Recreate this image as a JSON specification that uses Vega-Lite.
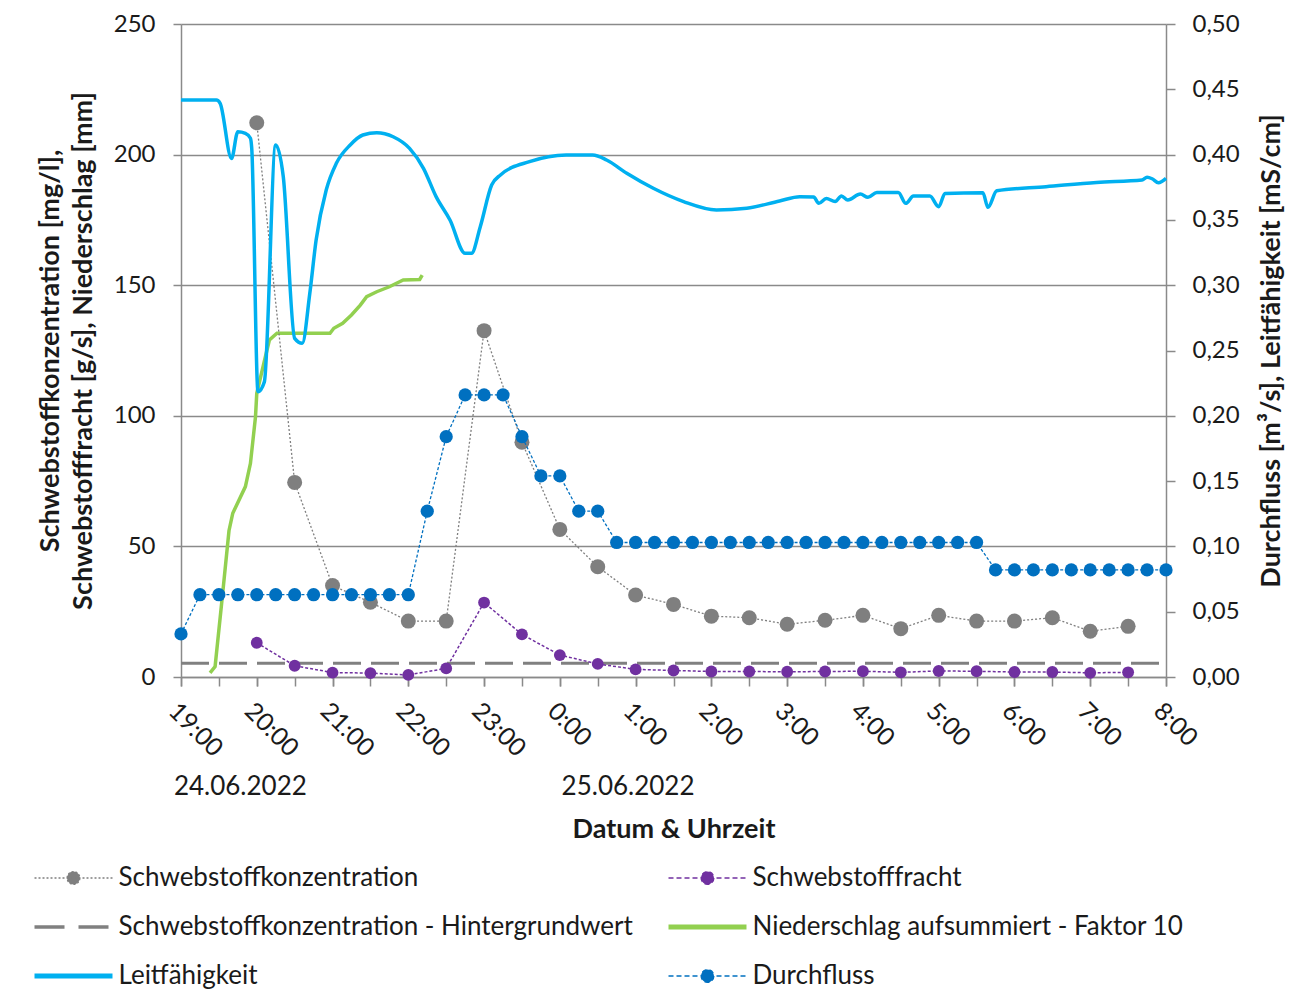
{
  "$schema": "https://vega.github.io/schema/vega-lite/v6.json",
  "width": 985,
  "height": 653,
  "autosize": "none",
  "padding": {"left": 181, "top": 24, "right": 126, "bottom": 320},
  "background": "white",
  "config": {
    "font": "Lato",
    "view": {"stroke": null},
    "locale": {
      "number": {"decimal": ",", "thousands": ".", "grouping": [3], "currency": ["", " €"]}
    }
  },
  "datasets": {
    "konzentration": [
      {"zeit": "2022-06-24T20:00", "wert": 212.2},
      {"zeit": "2022-06-24T20:30", "wert": 74.5},
      {"zeit": "2022-06-24T21:00", "wert": 35.0},
      {"zeit": "2022-06-24T21:30", "wert": 28.6},
      {"zeit": "2022-06-24T22:00", "wert": 21.4},
      {"zeit": "2022-06-24T22:30", "wert": 21.4},
      {"zeit": "2022-06-24T23:00", "wert": 132.6},
      {"zeit": "2022-06-24T23:30", "wert": 89.9},
      {"zeit": "2022-06-25T00:00", "wert": 56.5},
      {"zeit": "2022-06-25T00:30", "wert": 42.2},
      {"zeit": "2022-06-25T01:00", "wert": 31.4},
      {"zeit": "2022-06-25T01:30", "wert": 27.8},
      {"zeit": "2022-06-25T02:00", "wert": 23.3},
      {"zeit": "2022-06-25T02:30", "wert": 22.7},
      {"zeit": "2022-06-25T03:00", "wert": 20.2},
      {"zeit": "2022-06-25T03:30", "wert": 21.7},
      {"zeit": "2022-06-25T04:00", "wert": 23.6},
      {"zeit": "2022-06-25T04:30", "wert": 18.5},
      {"zeit": "2022-06-25T05:00", "wert": 23.6},
      {"zeit": "2022-06-25T05:30", "wert": 21.4},
      {"zeit": "2022-06-25T06:00", "wert": 21.4},
      {"zeit": "2022-06-25T06:30", "wert": 22.7},
      {"zeit": "2022-06-25T07:00", "wert": 17.5},
      {"zeit": "2022-06-25T07:30", "wert": 19.4}
    ],
    "fracht": [
      {"zeit": "2022-06-24T20:00", "wert": 13.1},
      {"zeit": "2022-06-24T20:30", "wert": 4.3},
      {"zeit": "2022-06-24T21:00", "wert": 1.7},
      {"zeit": "2022-06-24T21:30", "wert": 1.5},
      {"zeit": "2022-06-24T22:00", "wert": 0.8},
      {"zeit": "2022-06-24T22:30", "wert": 3.3},
      {"zeit": "2022-06-24T23:00", "wert": 28.5},
      {"zeit": "2022-06-24T23:30", "wert": 16.3},
      {"zeit": "2022-06-25T00:00", "wert": 8.4},
      {"zeit": "2022-06-25T00:30", "wert": 5.0},
      {"zeit": "2022-06-25T01:00", "wert": 2.9},
      {"zeit": "2022-06-25T01:30", "wert": 2.5},
      {"zeit": "2022-06-25T02:00", "wert": 2.1},
      {"zeit": "2022-06-25T02:30", "wert": 2.1},
      {"zeit": "2022-06-25T03:00", "wert": 2.0},
      {"zeit": "2022-06-25T03:30", "wert": 2.1},
      {"zeit": "2022-06-25T04:00", "wert": 2.2},
      {"zeit": "2022-06-25T04:30", "wert": 1.8},
      {"zeit": "2022-06-25T05:00", "wert": 2.3},
      {"zeit": "2022-06-25T05:30", "wert": 2.2},
      {"zeit": "2022-06-25T06:00", "wert": 1.9},
      {"zeit": "2022-06-25T06:30", "wert": 1.9},
      {"zeit": "2022-06-25T07:00", "wert": 1.6},
      {"zeit": "2022-06-25T07:30", "wert": 1.8}
    ],
    "hintergrund": [
      {"zeit": "2022-06-24T19:00", "wert": 5.3},
      {"zeit": "2022-06-25T08:00", "wert": 5.3}
    ],
    "niederschlag": [
      {"zeit": "2022-06-24T19:23", "wert": 1.6},
      {"zeit": "2022-06-24T19:27", "wert": 4.0},
      {"zeit": "2022-06-24T19:33", "wert": 32.0},
      {"zeit": "2022-06-24T19:38", "wert": 56.0},
      {"zeit": "2022-06-24T19:41", "wert": 62.7},
      {"zeit": "2022-06-24T19:51", "wert": 72.9},
      {"zeit": "2022-06-24T19:55", "wert": 81.8},
      {"zeit": "2022-06-24T19:59", "wert": 99.7},
      {"zeit": "2022-06-24T20:00", "wert": 108.6},
      {"zeit": "2022-06-24T20:08", "wert": 125.0},
      {"zeit": "2022-06-24T20:10", "wert": 129.0},
      {"zeit": "2022-06-24T20:16", "wert": 131.6},
      {"zeit": "2022-06-24T20:58", "wert": 131.6},
      {"zeit": "2022-06-24T21:01", "wert": 133.5},
      {"zeit": "2022-06-24T21:08", "wert": 135.4},
      {"zeit": "2022-06-24T21:15", "wert": 138.6},
      {"zeit": "2022-06-24T21:22", "wert": 142.4},
      {"zeit": "2022-06-24T21:27", "wert": 145.6},
      {"zeit": "2022-06-24T21:35", "wert": 147.5},
      {"zeit": "2022-06-24T21:45", "wert": 149.4},
      {"zeit": "2022-06-24T21:56", "wert": 152.0},
      {"zeit": "2022-06-24T22:09", "wert": 152.2},
      {"zeit": "2022-06-24T22:11", "wert": 153.9}
    ],
    "leitfaehigkeit": [
      {"zeit": "2022-06-24T19:00", "wert": 0.4418},
      {"zeit": "2022-06-24T19:28", "wert": 0.4418},
      {"zeit": "2022-06-24T19:31", "wert": 0.4393},
      {"zeit": "2022-06-24T19:40", "wert": 0.397},
      {"zeit": "2022-06-24T19:45", "wert": 0.4175},
      {"zeit": "2022-06-24T19:51", "wert": 0.4163},
      {"zeit": "2022-06-24T19:55", "wert": 0.4125},
      {"zeit": "2022-06-24T19:56", "wert": 0.405},
      {"zeit": "2022-06-24T20:01", "wert": 0.2185},
      {"zeit": "2022-06-24T20:06", "wert": 0.226},
      {"zeit": "2022-06-24T20:15", "wert": 0.4074},
      {"zeit": "2022-06-24T20:21", "wert": 0.383},
      {"zeit": "2022-06-24T20:30", "wert": 0.2593},
      {"zeit": "2022-06-24T20:36", "wert": 0.2555},
      {"zeit": "2022-06-24T20:42", "wert": 0.2938},
      {"zeit": "2022-06-24T20:47", "wert": 0.3346},
      {"zeit": "2022-06-24T20:55", "wert": 0.3729},
      {"zeit": "2022-06-24T21:03", "wert": 0.3933},
      {"zeit": "2022-06-24T21:14", "wert": 0.4074},
      {"zeit": "2022-06-24T21:24", "wert": 0.415},
      {"zeit": "2022-06-24T21:35", "wert": 0.4168},
      {"zeit": "2022-06-24T21:48", "wert": 0.4137},
      {"zeit": "2022-06-24T22:01", "wert": 0.4048},
      {"zeit": "2022-06-24T22:12", "wert": 0.3895},
      {"zeit": "2022-06-24T22:22", "wert": 0.3678},
      {"zeit": "2022-06-24T22:33", "wert": 0.3499},
      {"zeit": "2022-06-24T22:45", "wert": 0.3244},
      {"zeit": "2022-06-24T22:50", "wert": 0.3244},
      {"zeit": "2022-06-24T22:57", "wert": 0.3448},
      {"zeit": "2022-06-24T23:06", "wert": 0.3767},
      {"zeit": "2022-06-24T23:13", "wert": 0.3844},
      {"zeit": "2022-06-24T23:36", "wert": 0.3946},
      {"zeit": "2022-06-25T00:05", "wert": 0.3997},
      {"zeit": "2022-06-25T00:26", "wert": 0.3997},
      {"zeit": "2022-06-25T00:37", "wert": 0.3959},
      {"zeit": "2022-06-25T00:53", "wert": 0.3857},
      {"zeit": "2022-06-25T01:14", "wert": 0.3742},
      {"zeit": "2022-06-25T01:38", "wert": 0.364},
      {"zeit": "2022-06-25T02:04", "wert": 0.3576},
      {"zeit": "2022-06-25T02:28", "wert": 0.3589},
      {"zeit": "2022-06-25T02:54", "wert": 0.3645},
      {"zeit": "2022-06-25T03:10", "wert": 0.3677},
      {"zeit": "2022-06-25T03:21", "wert": 0.3675},
      {"zeit": "2022-06-25T03:25", "wert": 0.3627},
      {"zeit": "2022-06-25T03:31", "wert": 0.3664},
      {"zeit": "2022-06-25T03:38", "wert": 0.364},
      {"zeit": "2022-06-25T03:43", "wert": 0.3683},
      {"zeit": "2022-06-25T03:48", "wert": 0.3652},
      {"zeit": "2022-06-25T03:58", "wert": 0.3698},
      {"zeit": "2022-06-25T04:04", "wert": 0.3673},
      {"zeit": "2022-06-25T04:11", "wert": 0.371},
      {"zeit": "2022-06-25T04:28", "wert": 0.371},
      {"zeit": "2022-06-25T04:34", "wert": 0.3627},
      {"zeit": "2022-06-25T04:40", "wert": 0.3683},
      {"zeit": "2022-06-25T04:53", "wert": 0.3683},
      {"zeit": "2022-06-25T05:00", "wert": 0.3601},
      {"zeit": "2022-06-25T05:05", "wert": 0.3703},
      {"zeit": "2022-06-25T05:35", "wert": 0.3708},
      {"zeit": "2022-06-25T05:39", "wert": 0.3596},
      {"zeit": "2022-06-25T05:46", "wert": 0.3723},
      {"zeit": "2022-06-25T06:25", "wert": 0.3754},
      {"zeit": "2022-06-25T07:05", "wert": 0.3787},
      {"zeit": "2022-06-25T07:41", "wert": 0.3805},
      {"zeit": "2022-06-25T07:45", "wert": 0.3826},
      {"zeit": "2022-06-25T07:49", "wert": 0.3815},
      {"zeit": "2022-06-25T07:54", "wert": 0.3785},
      {"zeit": "2022-06-25T08:00", "wert": 0.3818}
    ],
    "durchfluss": [
      {"zeit": "2022-06-24T19:00", "wert": 0.033},
      {"zeit": "2022-06-24T19:15", "wert": 0.063},
      {"zeit": "2022-06-24T19:30", "wert": 0.063},
      {"zeit": "2022-06-24T19:45", "wert": 0.063},
      {"zeit": "2022-06-24T20:00", "wert": 0.063},
      {"zeit": "2022-06-24T20:15", "wert": 0.063},
      {"zeit": "2022-06-24T20:30", "wert": 0.063},
      {"zeit": "2022-06-24T20:45", "wert": 0.063},
      {"zeit": "2022-06-24T21:00", "wert": 0.063},
      {"zeit": "2022-06-24T21:15", "wert": 0.063},
      {"zeit": "2022-06-24T21:30", "wert": 0.063},
      {"zeit": "2022-06-24T21:45", "wert": 0.063},
      {"zeit": "2022-06-24T22:00", "wert": 0.063},
      {"zeit": "2022-06-24T22:15", "wert": 0.127},
      {"zeit": "2022-06-24T22:30", "wert": 0.184},
      {"zeit": "2022-06-24T22:45", "wert": 0.216},
      {"zeit": "2022-06-24T23:00", "wert": 0.216},
      {"zeit": "2022-06-24T23:15", "wert": 0.216},
      {"zeit": "2022-06-24T23:30", "wert": 0.184},
      {"zeit": "2022-06-24T23:45", "wert": 0.154},
      {"zeit": "2022-06-25T00:00", "wert": 0.154},
      {"zeit": "2022-06-25T00:15", "wert": 0.127},
      {"zeit": "2022-06-25T00:30", "wert": 0.127},
      {"zeit": "2022-06-25T00:45", "wert": 0.103},
      {"zeit": "2022-06-25T01:00", "wert": 0.103},
      {"zeit": "2022-06-25T01:15", "wert": 0.103},
      {"zeit": "2022-06-25T01:30", "wert": 0.103},
      {"zeit": "2022-06-25T01:45", "wert": 0.103},
      {"zeit": "2022-06-25T02:00", "wert": 0.103},
      {"zeit": "2022-06-25T02:15", "wert": 0.103},
      {"zeit": "2022-06-25T02:30", "wert": 0.103},
      {"zeit": "2022-06-25T02:45", "wert": 0.103},
      {"zeit": "2022-06-25T03:00", "wert": 0.103},
      {"zeit": "2022-06-25T03:15", "wert": 0.103},
      {"zeit": "2022-06-25T03:30", "wert": 0.103},
      {"zeit": "2022-06-25T03:45", "wert": 0.103},
      {"zeit": "2022-06-25T04:00", "wert": 0.103},
      {"zeit": "2022-06-25T04:15", "wert": 0.103},
      {"zeit": "2022-06-25T04:30", "wert": 0.103},
      {"zeit": "2022-06-25T04:45", "wert": 0.103},
      {"zeit": "2022-06-25T05:00", "wert": 0.103},
      {"zeit": "2022-06-25T05:15", "wert": 0.103},
      {"zeit": "2022-06-25T05:30", "wert": 0.103},
      {"zeit": "2022-06-25T05:45", "wert": 0.082},
      {"zeit": "2022-06-25T06:00", "wert": 0.082},
      {"zeit": "2022-06-25T06:15", "wert": 0.082},
      {"zeit": "2022-06-25T06:30", "wert": 0.082},
      {"zeit": "2022-06-25T06:45", "wert": 0.082},
      {"zeit": "2022-06-25T07:00", "wert": 0.082},
      {"zeit": "2022-06-25T07:15", "wert": 0.082},
      {"zeit": "2022-06-25T07:30", "wert": 0.082},
      {"zeit": "2022-06-25T07:45", "wert": 0.082},
      {"zeit": "2022-06-25T08:00", "wert": 0.082}
    ],
    "tage": [
      {"zeit": "2022-06-24T19:47", "wert": -42, "beschriftung": "24.06.2022"},
      {"zeit": "2022-06-25T00:54", "wert": -42, "beschriftung": "25.06.2022"}
    ]
  },
  "layer": [
    {
      "encoding": {
        "x": {
          "field": "zeit",
          "type": "temporal",
          "scale": {
            "domain": [
              {"year": 2022, "month": 6, "date": 24, "hours": 19},
              {"year": 2022, "month": 6, "date": 25, "hours": 8}
            ],
            "nice": false
          },
          "axis": {
            "orient": "bottom",
            "title": "Datum & Uhrzeit",
            "titleFont": "Lato",
            "titleFontSize": 27,
            "titleFontWeight": "bold",
            "titleColor": "#1a1a1a",
            "titlePadding": 55,
            "grid": false,
            "tickCount": 13,
            "format": "%-H:%M",
            "labelAngle": 45,
            "labelFlush": false,
            "labelPadding": 12,
            "labelFont": "Lato",
            "labelFontSize": 25,
            "labelColor": "#1a1a1a",
            "domainColor": "#8a8a8a",
            "domainWidth": 1.5,
            "tickColor": "#8a8a8a",
            "tickWidth": 1.5,
            "tickSize": 9
          }
        },
        "y": {
          "field": "wert",
          "type": "quantitative",
          "scale": {"domain": [0, 250], "nice": false, "zero": false},
          "axis": {
            "orient": "left",
            "values": [0, 50, 100, 150, 200, 250],
            "grid": true,
            "gridColor": "#8a8a8a",
            "gridWidth": 1.5,
            "domainColor": "#8a8a8a",
            "domainWidth": 1.5,
            "tickColor": "#8a8a8a",
            "tickWidth": 1.5,
            "tickSize": 8,
            "labelFont": "Lato",
            "labelFontSize": 24,
            "labelColor": "#1a1a1a",
            "labelPadding": 18,
            "title": ["Schwebstoffkonzentration [mg/l],", "Schwebstofffracht [g/s], Niederschlag [mm]"],
            "titleFont": "Lato",
            "titleFontSize": 27,
            "titleFontWeight": "bold",
            "titleColor": "#1a1a1a",
            "titleLineHeight": 33,
            "titlePadding": 16
          }
        }
      },
      "layer": [
        {
          "data": {"name": "niederschlag"},
          "mark": {"type": "line", "strokeWidth": 3.5},
          "encoding": {
            "color": {
              "datum": "Niederschlag aufsummiert - Faktor 10",
              "type": "nominal",
              "scale": {
                "domain": [
                  "Schwebstoffkonzentration",
                  "Schwebstoffkonzentration - Hintergrundwert",
                  "Leitfähigkeit",
                  "Schwebstofffracht",
                  "Niederschlag aufsummiert - Faktor 10",
                  "Durchfluss"
                ],
                "range": ["#7f7f7f", "#808080", "#00b0f0", "#7030a0", "#92d050", "#0070c0"]
              },
              "legend": {
                "title": null,
                "orient": "none",
                "legendX": -120.5,
                "legendY": 841,
                "columns": 2,
                "padding": 0,
                "rowPadding": 23,
                "columnPadding": 25,
                "symbolSize": 1600,
                "labelOffset": 32,
                "labelFont": "Lato",
                "labelFontSize": 26,
                "labelColor": "#1a1a1a",
                "labelLimit": 800,
                "encode": {
                  "symbols": {
                    "update": {
                      "shape": {"signal": "indexof(['Schwebstoffkonzentration - Hintergrundwert', 'Niederschlag aufsummiert - Faktor 10', 'Leitfähigkeit'], datum.value) >= 0 ? 'M-1.95,0H1.95' : 'M-1.95,0H1.95M0.32,0A0.32,0.32 0 1,1 -0.32,0A0.32,0.32 0 1,1 0.32,0Z'"},
                      "fill": {"signal": "indexof(['Schwebstoffkonzentration - Hintergrundwert', 'Niederschlag aufsummiert - Faktor 10', 'Leitfähigkeit'], datum.value) >= 0 ? 'transparent' : scale('color', datum.value)"},
                      "stroke": {"signal": "scale('color', datum.value)"},
                      "strokeWidth": {"signal": "datum.value === 'Leitfähigkeit' || datum.value === 'Niederschlag aufsummiert - Faktor 10' ? 5 : datum.value === 'Schwebstoffkonzentration - Hintergrundwert' ? 3.5 : 1.3"},
                      "strokeDash": {"signal": "datum.value === 'Schwebstoffkonzentration - Hintergrundwert' ? [30, 14] : datum.value === 'Schwebstoffkonzentration' ? [2, 2] : (datum.value === 'Schwebstofffracht' || datum.value === 'Durchfluss') ? [5, 3] : [1, 0]"},
                      "size": {"value": 1600},
                      "opacity": {"value": 1}
                    }
                  }
                }
              }
            }
          }
        },
        {
          "data": {"name": "hintergrund"},
          "mark": {"type": "line", "strokeWidth": 3, "strokeDash": [28, 10]},
          "encoding": {"color": {"datum": "Schwebstoffkonzentration - Hintergrundwert", "type": "nominal"}}
        },
        {
          "data": {"name": "konzentration"},
          "mark": {"type": "line", "strokeWidth": 1.3, "strokeDash": [2, 2]},
          "encoding": {"color": {"datum": "Schwebstoffkonzentration", "type": "nominal"}}
        },
        {
          "data": {"name": "konzentration"},
          "mark": {"type": "point", "filled": true, "size": 225, "opacity": 1},
          "encoding": {"color": {"datum": "Schwebstoffkonzentration", "type": "nominal"}}
        },
        {
          "data": {"name": "fracht"},
          "mark": {"type": "line", "strokeWidth": 1.5, "strokeDash": [3, 2]},
          "encoding": {"color": {"datum": "Schwebstofffracht", "type": "nominal"}}
        },
        {
          "data": {"name": "fracht"},
          "mark": {"type": "point", "filled": true, "size": 140, "opacity": 1},
          "encoding": {"color": {"datum": "Schwebstofffracht", "type": "nominal"}}
        },
        {
          "data": {"name": "tage"},
          "mark": {"type": "text", "font": "Lato", "fontSize": 26, "color": "#1a1a1a", "baseline": "middle", "align": "center"},
          "encoding": {"text": {"field": "beschriftung", "type": "nominal"}}
        }
      ]
    },
    {
      "encoding": {
        "x": {
          "field": "zeit",
          "type": "temporal",
          "axis": {
            "orient": "bottom",
            "title": null,
            "grid": false,
            "labels": false,
            "domain": false,
            "tickCount": 26,
            "tickColor": "#8a8a8a",
            "tickWidth": 1.5,
            "tickSize": 9
          }
        },
        "y": {
          "field": "wert",
          "type": "quantitative",
          "scale": {"domain": [0, 0.5], "nice": false, "zero": false},
          "axis": {
            "orient": "right",
            "values": [0, 0.05, 0.1, 0.15, 0.2, 0.25, 0.3, 0.35, 0.4, 0.45, 0.5],
            "format": ".2f",
            "grid": false,
            "domainColor": "#8a8a8a",
            "domainWidth": 1.5,
            "tickColor": "#8a8a8a",
            "tickWidth": 1.5,
            "tickSize": 9,
            "labelFont": "Lato",
            "labelFontSize": 24,
            "labelColor": "#1a1a1a",
            "labelPadding": 17,
            "title": "Durchfluss [m³/s], Leitfähigkeit [mS/cm]",
            "titleFont": "Lato",
            "titleFontSize": 27,
            "titleFontWeight": "bold",
            "titleColor": "#1a1a1a",
            "titleAngle": 270,
            "titlePadding": 46
          }
        }
      },
      "layer": [
        {
          "data": {"name": "leitfaehigkeit"},
          "mark": {"type": "line", "strokeWidth": 3.5, "interpolate": "monotone"},
          "encoding": {"color": {"datum": "Leitfähigkeit", "type": "nominal"}}
        },
        {
          "data": {"name": "durchfluss"},
          "mark": {"type": "line", "strokeWidth": 1.3, "strokeDash": [3, 2]},
          "encoding": {"color": {"datum": "Durchfluss", "type": "nominal"}}
        },
        {
          "data": {"name": "durchfluss"},
          "mark": {"type": "point", "filled": true, "size": 175, "opacity": 1},
          "encoding": {"color": {"datum": "Durchfluss", "type": "nominal"}}
        }
      ]
    }
  ],
  "resolve": {"scale": {"y": "independent", "x": "shared"}, "axis": {"x": "independent"}}
}
